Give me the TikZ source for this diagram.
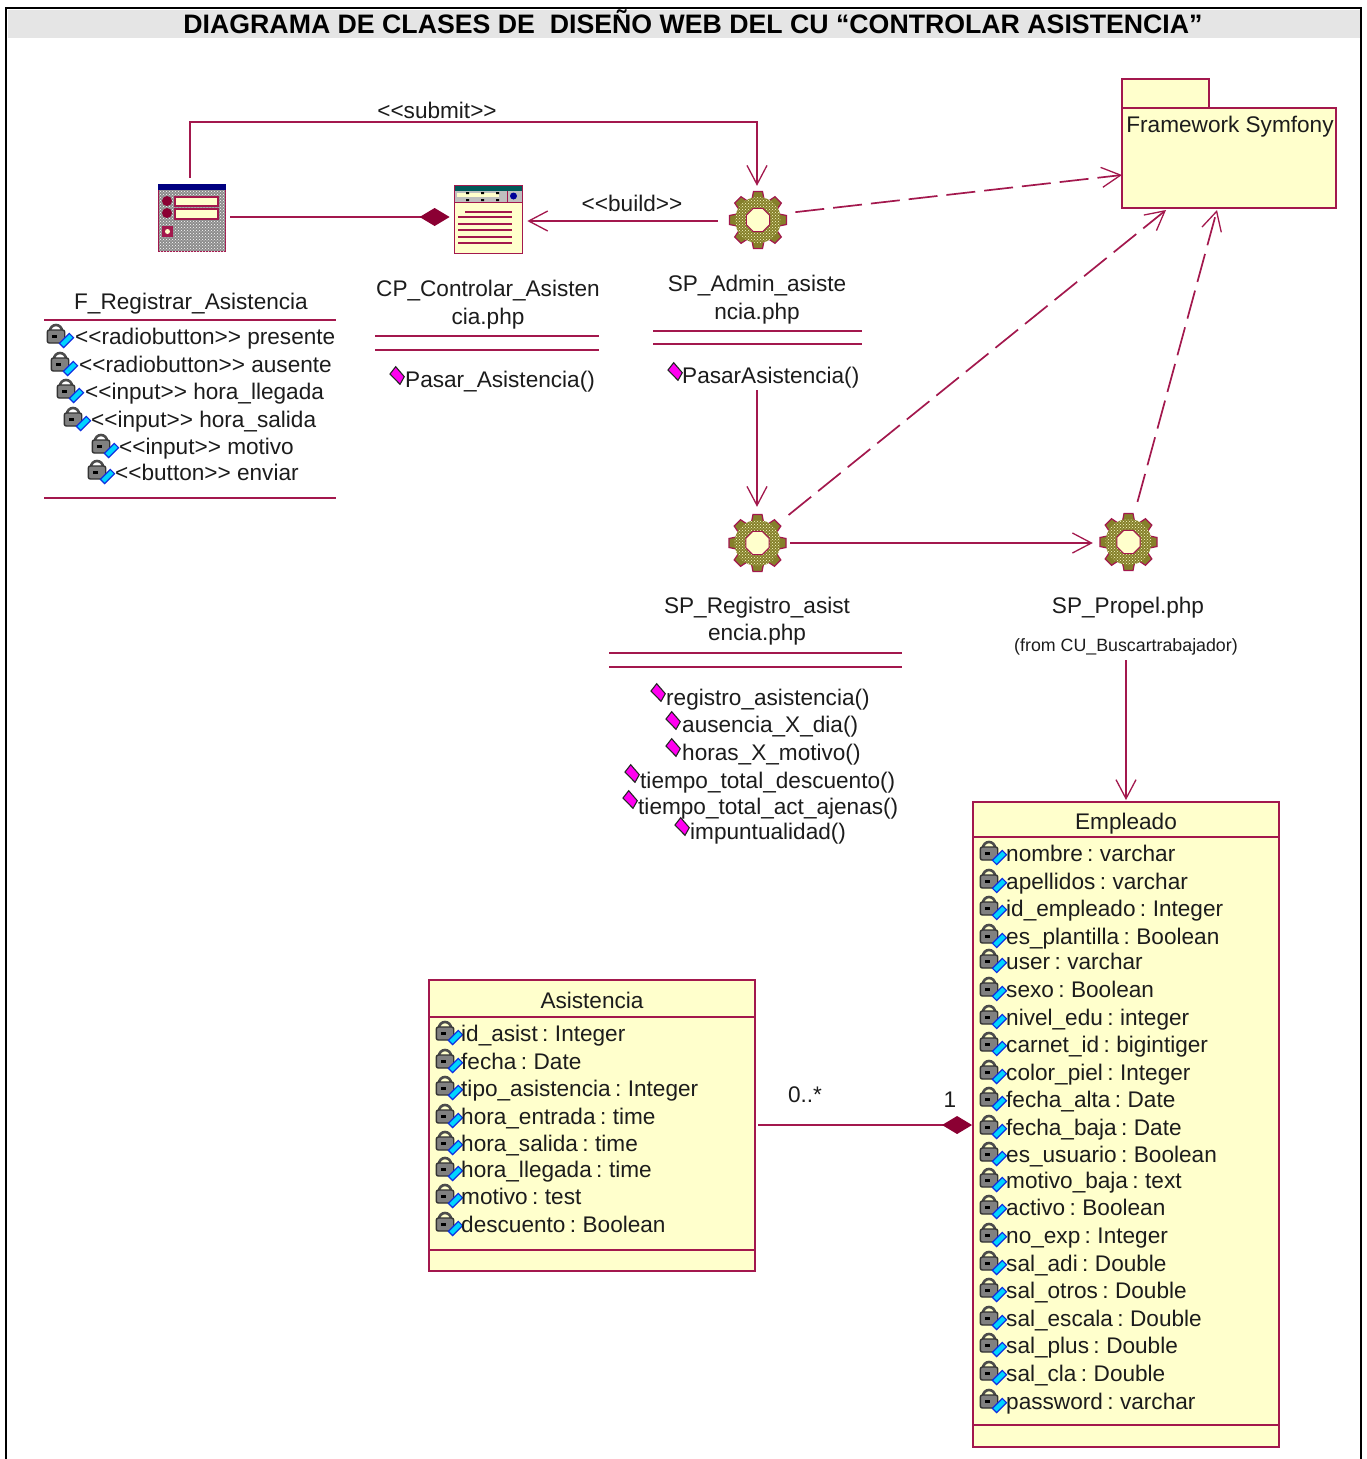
\documentclass[tikz,border=0pt]{standalone}
\usepackage{fontspec}
\setmainfont{Liberation Sans}
\newfontfamily\attrfont[WordSpace=0.7]{Liberation Sans}
\usetikzlibrary{arrows.meta,patterns}
\definecolor{crim}{HTML}{A3184D}
\definecolor{dcrim}{HTML}{8B0033}
\definecolor{cream}{HTML}{FFFFCC}
\definecolor{txt}{HTML}{1C1C1C}
\definecolor{olv}{HTML}{85802A}
\definecolor{opmag}{HTML}{FF00F0}
\definecolor{pencil}{HTML}{00D4FF}
\definecolor{pencilb}{HTML}{1030E0}
\tikzset{
  x=1pt,y=-1pt,
  conn/.style={draw=crim,line width=2pt},
  openarrow/.style={-{Straight Barb[length=19pt,width=20pt,line width=1.3pt]}},
  dashconn/.style={draw=crim,line width=1.7pt,dash pattern=on 29pt off 9pt},
  compo/.style={{Diamond[length=30pt,width=18pt,fill=dcrim,color=dcrim]}-},
  rule/.style={draw=crim,line width=1.9pt},
  lbl/.style={inner sep=0pt,text=txt,font=\fontsize{22.6}{26}\selectfont,text height=18pt,text depth=4pt},
  attrtext/.style={lbl,anchor=west},
  classattr/.style={attrtext,font=\attrfont\fontsize{22.6}{26}\selectfont},
  iconbox/.style={circle,draw=none,inner sep=0pt,minimum size=#1},
  umlbox/.style={draw=crim,fill=cream,line width=1.9pt,inner sep=0pt},
  lockicon/.pic={
    \draw[line width=2.6pt,draw=black!70] (3,-6) arc[start angle=180,end angle=360,radius=6];
    \draw[black!80,line width=1.4pt,fill=black!50,rounded corners=2pt] (0.3,-7) rectangle (17.7,6);
    \fill[black] (5,-2) rectangle (10,1);
    \draw[draw=pencilb,fill=pencil,line width=1.2pt,rotate around={45:(19.5,3.5)}] (12.5,0.5) rectangle (26.5,6.5);
  },
  oppic/.pic={
    \draw[fill=opmag,draw=black!85,line width=1.1pt] (-7,-1) -- (-1.3,-8.3) -- (7.3,1.7) -- (3,9.3) -- cycle;
  },
  gearpic/.pic={
    \foreach \a in {0,45,...,315}{
      \draw[draw=crim,fill=olv,line width=1.2pt,rotate=\a] (21,-6) -- (28.5,-4.5) -- (28.5,4.5) -- (21,6) -- cycle;
    }
    \fill[olv] (0,0) circle[radius=23];
    \fill[pattern=crosshatch dots,pattern color=cream] (0,0) circle[radius=23];
    \draw[draw=crim,fill=cream,line width=1pt] (22.5:12.5) -- (67.5:12.5) -- (112.5:12.5) -- (157.5:12.5) -- (202.5:12.5) -- (247.5:12.5) -- (292.5:12.5) -- (337.5:12.5) -- cycle;
  }
}
\begin{document}
\begin{tikzpicture}
\useasboundingbox (0,0) rectangle (1366,1459);
\fill[white] (0,0) rectangle (1366,1459);
% frame and title
\fill[black!10] (8,10) rectangle (1361,38);
\draw[black,line width=2pt] (6,1459) -- (6,8) -- (1361,8) -- (1361,1459);
\node[inner sep=0pt,font=\fontsize{26.7}{30}\bfseries\selectfont] (title) at (693,22) {DIAGRAMA DE CLASES DE\ \ DISEÑO WEB DEL CU “CONTROLAR ASISTENCIA”};

% form icon
\node[draw=crim,line width=1.7pt,inner sep=0pt,minimum width=67pt,minimum height=67pt,fill=black!45] (form) at (192,218) {};
\fill[pattern=crosshatch dots,pattern color=white] (159,190) rectangle (225,251);
\fill[blue!50!black] (158,184) rectangle (226,190);
\draw[crim,fill=cream,line width=1.3pt] (175,197) rectangle (218,206);
\draw[crim,fill=cream,line width=1.3pt] (175,209) rectangle (218,219);
\fill[dcrim] (167,201) circle[radius=5];
\fill[dcrim] (167,213) circle[radius=5];
\fill[crim] (162,226) rectangle (173,237);
\fill[cream] (167.5,231.5) circle[radius=2.5];

% CP icon
\node[draw=crim,fill=cream,line width=1.7pt,inner sep=0pt,minimum width=68pt,minimum height=68pt] (cp) at (488.5,219.5) {};
\fill[teal!70!black] (455,186) rectangle (522,191);
\fill[black!25] (455,191) rectangle (522,202);
\draw[crim,line width=1pt] (455,202.5) -- (522,202.5) (507,191) -- (507,202);
\fill[blue!60!black] (513.5,196) circle[radius=3.5];
\fill[cream] (457,193) rectangle (499,197);
\foreach \x in {466,481,496}{\fill[black] (\x,192) rectangle +(3,2) (\x,199) rectangle +(3,2);}
\foreach \y/\a in {212/465,217/458,224/458,230/458,237/458,243/458}{\draw[crim,line width=1.4pt] (\a,\y) -- (512,\y);}

% gears
\node[iconbox=72pt] (gearA) at (757,220) {};
\path (758,220) pic {gearpic};
\node[iconbox=72pt] (gearB) at (757,543) {};
\path (757.5,543) pic {gearpic};
\node[iconbox=72pt] (gearC) at (1128,542) {};
\path (1128.5,542) pic {gearpic};

% package
\draw[umlbox] (1122,79) rectangle (1209,108);
\node[umlbox,minimum width=214pt,minimum height=100pt] (pkg) at (1229,158) {};
\node[lbl] (pkgname) at (1230,125) {Framework Symfony};

% free ends
\coordinate (corner) at (757,122);
\coordinate (pkgInA) at (1122,175);
\coordinate (pkgInB) at (1166,210);
\coordinate (pkgInC) at (1217,210);
\coordinate (adminOut) at (757,390);

% labels
\node[lbl] (fname) at (191,302) {F\_Registrar\_Asistencia};
\node[lbl] (cpnameA) at (488,289) {CP\_Controlar\_Asisten};
\node[lbl] (cpnameB) at (488,317) {cia.php};
\node[lbl] (sanameA) at (757,284) {SP\_Admin\_asiste};
\node[lbl] (sanameB) at (757,312) {ncia.php};
\node[lbl] (srnameA) at (757,606) {SP\_Registro\_asist};
\node[lbl] (srnameB) at (757,633) {encia.php};
\node[lbl] (spname) at (1128,606) {SP\_Propel.php};
\node[lbl,font=\fontsize{17.8}{20}\selectfont,text height=15pt,text depth=5pt,minimum height=28pt] (spfrom) at (1126,646) {(from CU\_Buscartrabajador)};
\node[lbl] (lsubmit) at (437,111) {<{}<submit>{}>};
\node[lbl] (lbuild) at (632,204) {<{}<build>{}>};
\node[lbl] (mult) at (805,1095) {0..*};
\node[lbl] (multone) at (950,1100) {1};

% class rules
\draw[rule] (44,320) -- (336,320) (44,498) -- (336,498);
\draw[rule] (375,336) -- (599,336) (375,350) -- (599,350);
\draw[rule] (653,331) -- (862,331) (653,344) -- (862,344);
\draw[rule] (609,653) -- (902,653) (609,667) -- (902,667);

% form attributes
\foreach \n/\ix/\tx/\y/\t in {
  1/47/75/337/{<{}<radiobutton>{}> presente},
  2/51/79/365/{<{}<radiobutton>{}> ausente},
  3/57/85/392/{<{}<input>{}> hora\_llegada},
  4/64/91/420/{<{}<input>{}> hora\_salida},
  5/92/119/447/{<{}<input>{}> motivo},
  6/88/115/473/{<{}<button>{}> enviar}}{
  \path (\ix,\y) pic {lockicon};
  \node[attrtext] (fa\n) at (\tx,\y) {\t};
}

% operations
\foreach \n/\ix/\iy/\tx/\y/\t in {
  1/397/375/405/380/{Pasar\_Asistencia()},
  2/675/371/682/376/{PasarAsistencia()},
  3/658/692/666/698/{registro\_asistencia()},
  4/673/720/682/725/{ausencia\_X\_dia()},
  5/673/747/682/753/{horas\_X\_motivo()},
  6/632/773/640/781/{tiempo\_total\_descuento()},
  7/630/799/638/807/{tiempo\_total\_act\_ajenas()},
  8/682/826/690/832/{impuntualidad()}}{
  \path (\ix,\iy) pic {oppic};
  \node[attrtext] (op\n) at (\tx,\y) {\t};
}

% Asistencia class
\node[umlbox,minimum width=326pt,minimum height=291pt] (asis) at (592,1125.5) {};
\draw[rule] (429,1017) -- (755,1017) (429,1250) -- (755,1250);
\node[lbl] (asisname) at (592,1001) {Asistencia};
\foreach \n/\y/\t in {
  1/1034/{id\_asist : Integer},
  2/1062/{fecha : Date},
  3/1089/{tipo\_asistencia : Integer},
  4/1117/{hora\_entrada : time},
  5/1144/{hora\_salida : time},
  6/1170/{hora\_llegada : time},
  7/1197/{motivo : test},
  8/1225/{descuento : Boolean}}{
  \path (436,\y) pic {lockicon};
  \node[classattr] (aa\n) at (461,\y) {\t};
}

% Empleado class
\node[umlbox,minimum width=306pt,minimum height=645pt] (emp) at (1126,1124.5) {};
\draw[rule] (973,837) -- (1279,837) (973,1425) -- (1279,1425);
\node[lbl] (empname) at (1126,822) {Empleado};
\foreach \n/\y/\t in {
  1/854/{nombre : varchar},
  2/882/{apellidos : varchar},
  3/909/{id\_empleado : Integer},
  4/937/{es\_plantilla : Boolean},
  5/962/{user : varchar},
  6/990/{sexo : Boolean},
  7/1018/{nivel\_edu : integer},
  8/1045/{carnet\_id : bigintiger},
  9/1073/{color\_piel : Integer},
  10/1100/{fecha\_alta : Date},
  11/1128/{fecha\_baja : Date},
  12/1155/{es\_usuario : Boolean},
  13/1181/{motivo\_baja : text},
  14/1208/{activo : Boolean},
  15/1236/{no\_exp : Integer},
  16/1264/{sal\_adi : Double},
  17/1291/{sal\_otros : Double},
  18/1319/{sal\_escala : Double},
  19/1346/{sal\_plus : Double},
  20/1374/{sal\_cla : Double},
  21/1402/{password : varchar}}{
  \path (980,\y) pic {lockicon};
  \node[classattr] (ea\n) at (1006,\y) {\t};
}

% connectors
\coordinate (formOut) at ([yshift=1pt]form.east);
\coordinate (gearAOut) at ([yshift=-1pt]gearA.west);
\draw[conn,openarrow,shorten <=6pt,shorten >=-2pt] ([xshift=-2pt]form.north) |- (corner) -- (gearA.north);
\draw[conn,compo,shorten <=4pt] (cp.west |- formOut) -- ([xshift=4pt]formOut);
\draw[conn,openarrow,shorten >=4pt,shorten <=3pt] (gearAOut) -- (cp.east |- gearAOut);
\draw[dashconn,openarrow,shorten <=3pt] (gearA.12) -- (pkgInA);
\draw[conn,openarrow] (adminOut) -- (gearB.north);
\draw[conn,openarrow,shorten <=-3pt,shorten >=-1pt] (gearB.east) -- (gearC.west |- gearB.east);
\draw[dashconn,openarrow,shorten <=6pt] (gearB.42) -- (pkgInB);
\draw[dashconn,openarrow,shorten <=5pt] (gearC.77) -- (pkgInC);
\draw[conn,openarrow,shorten >=1pt] (spfrom.south) -- (emp.north);
\draw[conn,compo] (emp.west |- 0,1125) -- ([xshift=2pt]asis.east |- 0,1125);
\end{tikzpicture}
\end{document}
